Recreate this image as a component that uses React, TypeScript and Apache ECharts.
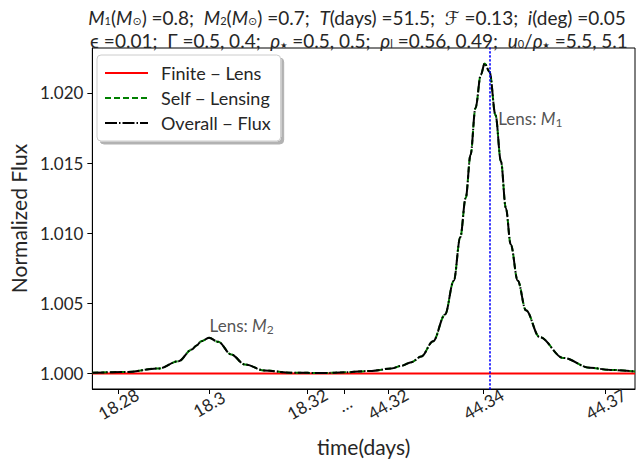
import React, { useEffect, useRef } from "react";
import * as echarts from "echarts";

// Plot position (sample index along the broken time axis) and fluxes
const sampleIndex = [0, 6.1, 12.2, 15.9, 18.3, 19.2, 20.1, 21.5, 23.2, 25.6, 28.1, 31.7, 36.6, 42.7, 46.5, 51.5, 55.1, 57.0, 58.8, 60.6, 62.8, 65.0, 66.6, 67.8, 68.8, 69.7, 70.6, 71.6, 72.3, 73.2, 74.3, 75.3, 76.2, 77.1, 78.4, 79.9, 82.4, 86.8, 91.7, 95.5, 100];
const selfLensing = [1.00005, 1.0001, 1.00035, 1.00087, 1.0017, 1.002, 1.0023, 1.00254, 1.00225, 1.00135, 1.00064, 1.00021, 1.00005, 1.00003, 1.00008, 1.00018, 1.00035, 1.00055, 1.0008, 1.0012, 1.0023, 1.0042, 1.0066, 1.0097, 1.0125, 1.0156, 1.0189, 1.0213, 1.0221, 1.0215, 1.0184, 1.0151, 1.0118, 1.0092, 1.0066, 1.0045, 1.0026, 1.0011, 1.0004, 1.00025, 1.00014];
const overallFlux = [1.00005, 1.0001, 1.00035, 1.00087, 1.0017, 1.002, 1.0023, 1.00254, 1.00225, 1.00135, 1.00064, 1.00021, 1.00005, 1.00003, 1.00008, 1.00018, 1.00035, 1.00055, 1.0008, 1.0012, 1.0023, 1.0042, 1.0066, 1.0097, 1.0125, 1.0156, 1.0189, 1.0213, 1.0221, 1.0215, 1.0184, 1.0151, 1.0118, 1.0092, 1.0066, 1.0045, 1.0026, 1.0011, 1.0004, 1.00025, 1.00014];
const finiteLensIndex = [0, 100];
const finiteLens = [1.0, 1.0];

const xTickPos = [4.8, 21.5, 39.6, 46.5, 54.5, 72.1, 94.6];
const xTickLabels = ["18.28", "18.3", "18.32", "…", "44.32", "44.34", "44.37"];
const yTicks = [1.0, 1.005, 1.01, 1.015, 1.02];
const yTickLabels = ["1.000", "1.005", "1.010", "1.015", "1.020"];

const lensM1Index = 73.3;
const annotations = [
  { x: 21.6, y: 1.00345, sub: "2" },
  { x: 74.8, y: 1.0182, sub: "1" },
];

const FONT = "Lato, 'DejaVu Sans', sans-serif";
const TXT = "#262626";

export default function App() {
  const ref = useRef<HTMLDivElement>(null);
  useEffect(() => {
    if (!ref.current) return;
    const chart = echarts.init(ref.current, null, { renderer: "svg" });
    const TS = 19;
    const rich = {
      i: { fontStyle: "italic", fontWeight: "normal", fontSize: TS, fontFamily: FONT, color: TXT, lineHeight: 18 },
      s: { fontSize: 11, fontWeight: "normal", fontFamily: FONT, color: TXT, verticalAlign: "bottom", lineHeight: 10 },
      st: { fontSize: 8, fontWeight: "normal", fontFamily: "'DejaVu Sans'", color: TXT, verticalAlign: "bottom", lineHeight: 10 },
      n: { fontSize: TS, fontWeight: "normal", fontFamily: FONT, color: TXT, lineHeight: 18 },
    };
    const line1 = "{i|M}{s|1}{n|(}{i|M}{s|⊙}{n|) =0.8;  }{i|M}{s|2}{n|(}{i|M}{s|⊙}{n|) =0.7;  }{i|T}{n|(days) =51.5;  }{i|ℱ}{n| =0.13;  }{i|i}{n|(deg) =0.05}";
    const line2 = "{n|ϵ =0.01;  Γ =0.5, 0.4;  }{i|ρ}{st|★}{n| =0.5, 0.5;  }{i|ρ}{s|l}{n| =0.56, 0.49;  }{i|u}{s|0}{n|/}{i|ρ}{st|★}{n| =5.5, 5.1}";

    const option: any = {
      animation: false,
      title: [
        { text: line1, left: 352, top: 3, textAlign: "center", textStyle: { rich, fontSize: TS, fontWeight: "normal" } },
        { text: line2, left: 354, top: 26, textAlign: "center", textStyle: { rich, fontSize: TS, fontWeight: "normal" } },
      ],
      grid: { left: 89, right: 9, top: 48, bottom: 78, show: true, borderColor: "#000", borderWidth: 1, backgroundColor: "#fff" },
      legend: {
        left: 97,
        top: 55,
        orient: "vertical",
        itemWidth: 43,
        itemHeight: 14,
        itemGap: 7,
        padding: [9, 10, 9, 7],
        backgroundColor: "#fff",
        borderColor: "#cccccc",
        borderWidth: 1,
        borderRadius: 4,
        shadowColor: "rgba(0,0,0,0.3)",
        shadowBlur: 1,
        shadowOffsetX: 3,
        shadowOffsetY: 3,
        itemStyle: { opacity: 0 },
        textStyle: { fontFamily: FONT, fontSize: 18, color: TXT, padding: [0, 0, 0, 8] },
        data: ["Finite − Lens", "Self − Lensing", "Overall − Flux"],
      },
      xAxis: {
        type: "value",
        min: 0,
        max: 100,
        name: "time(days)",
        nameLocation: "middle",
        nameGap: 47,
        nameTextStyle: { fontFamily: FONT, fontSize: 21, color: TXT },
        axisLine: { show: true, onZero: false, lineStyle: { color: "#000", width: 1 } },
        axisTick: { show: true, customValues: xTickPos, length: 5, lineStyle: { color: "#000" } },
        axisLabel: {
          customValues: xTickPos,
          formatter: (v: number) => {
            let best = 0;
            xTickPos.forEach((p, k) => { if (Math.abs(p - v) < Math.abs(xTickPos[best] - v)) best = k; });
            return xTickLabels[best];
          },
          rotate: 30,
          align: "center",
          verticalAlign: "middle",
          margin: 15,
          fontFamily: FONT,
          fontSize: 17,
          color: TXT,
        },
        splitLine: { show: false },
      },
      yAxis: {
        type: "value",
        min: 0.99889,
        max: 1.0232,
        name: "Normalized Flux",
        nameLocation: "middle",
        nameGap: 57,
        nameTextStyle: { fontFamily: FONT, fontSize: 21, color: TXT },
        axisLine: { show: true, lineStyle: { color: "#000", width: 1 } },
        axisTick: { show: true, customValues: yTicks, length: 5, lineStyle: { color: "#000" } },
        axisLabel: {
          customValues: yTicks,
          formatter: (v: number) => {
            let best = 0;
            yTicks.forEach((p, k) => { if (Math.abs(p - v) < Math.abs(yTicks[best] - v)) best = k; });
            return yTickLabels[best];
          },
          margin: 9,
          fontFamily: FONT,
          fontSize: 17,
          color: TXT,
        },
        splitLine: { show: false },
      },
      series: [
        {
          name: "Finite − Lens",
          type: "line",
          data: finiteLensIndex.map((x, k) => [x, finiteLens[k]]),
          showSymbol: false,
          symbol: "none",
          lineStyle: { color: "#ff0000", width: 2 },
          itemStyle: { color: "#ff0000" },
        },
        {
          name: "Self − Lensing",
          type: "line",
          data: sampleIndex.map((x, k) => [x, selfLensing[k]]),
          smooth: 0.35,
          smoothMonotone: "x",
          symbol: "none",
          lineStyle: { color: "#008000", width: 2, type: [6, 3] },
          itemStyle: { color: "#008000" },
        },
        {
          name: "Overall − Flux",
          type: "line",
          data: sampleIndex.map((x, k) => [x, overallFlux[k]]),
          smooth: 0.35,
          smoothMonotone: "x",
          symbol: "none",
          lineStyle: { color: "#000000", width: 2, type: [12, 2, 1.5, 2] },
          itemStyle: { color: "#000000" },
          markLine: {
            silent: true,
            symbol: "none",
            label: { show: false },
            lineStyle: { color: "#0000ff", width: 1.6, type: [1.2, 2.8], cap: "round" },
            data: [{ xAxis: lensM1Index }],
          },
        },
        {
          name: "annotations",
          type: "scatter",
          symbolSize: 0,
          silent: true,
          data: annotations.map((a) => ({ value: [a.x, a.y], sub: a.sub })),
          label: {
            show: true,
            position: "right",
            distance: 0,
            formatter: (p: any) => `{n|Lens: }{i|M}{s|${p.data.sub}}`,
            rich: {
              n: { fontFamily: FONT, fontSize: 17, color: TXT, lineHeight: 20 },
              i: { fontFamily: FONT, fontSize: 17, fontStyle: "italic", color: TXT, lineHeight: 20 },
              s: { fontFamily: FONT, fontSize: 12, color: TXT, verticalAlign: "bottom", lineHeight: 12 },
            },
          },
        },
      ],
    };
    chart.setOption(option);
    return () => chart.dispose();
  }, []);
  return <div ref={ref} style={{ width: 644, height: 467, position: "absolute", left: 0, top: 0 }} />;
}
